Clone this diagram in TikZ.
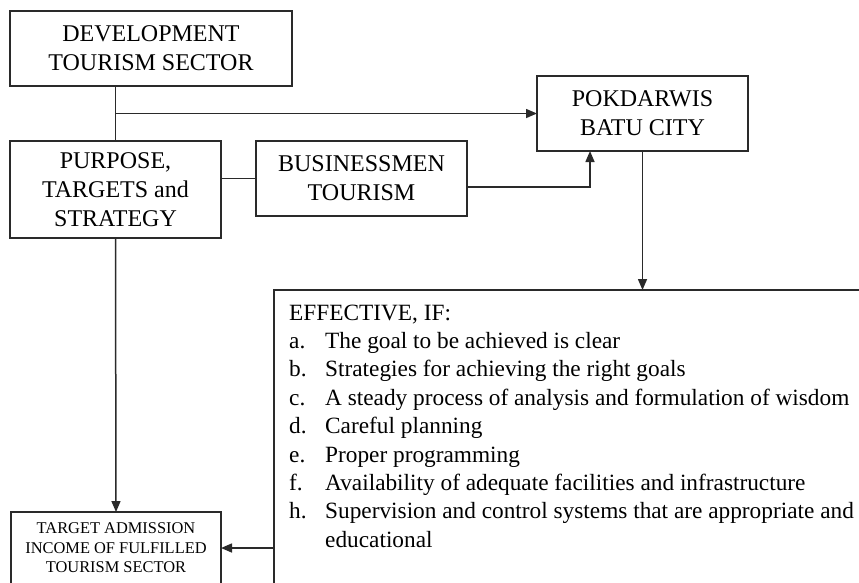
\documentclass[tikz,border=0pt]{standalone}
\usepackage{fontspec}
\setmainfont{Liberation Serif}
\usetikzlibrary{arrows.meta}
\definecolor{linegray}{HTML}{2A2A2A}

\begin{document}
\begin{tikzpicture}[
		x=1pt, y=-1pt,
		box/.style = {
			draw=linegray, line width=1.5pt, rectangle, align=center,
			font=\fontsize{24}{29}\selectfont,
			outer sep=0pt, inner sep=0pt
		},
		smallbox/.style = {
			box, font=\fontsize{16.4}{19.5}\selectfont
		},
		conn/.style = {draw=linegray, line width=1.5pt},
		tip/.style = {conn, -{Triangle[length=11pt,width=9pt]}}
		]
		\useasboundingbox (0,0) rectangle (859,582);
		%\draw[help lines] (0,0) grid[step=50] (859,582);
		\node[box, minimum width=282pt, minimum height=75pt] (dev) at (151,48.5) {DEVELOPMENT\\TOURISM SECTOR};
		\node[box, minimum width=211pt, minimum height=97pt] (purpose) at (115.5,189.5) {PURPOSE,\\TARGETS and\\STRATEGY};
		\node[box, minimum width=211pt, minimum height=75pt] (business) at (361.5,178.5) {BUSINESSMEN\\TOURISM};
		\node[box, minimum width=211pt, minimum height=75pt] (pokdarwis) at (642.5,113.5) {POKDARWIS\\BATU CITY};
		\node[smallbox, minimum width=210pt, minimum height=72pt] (target) at (116,548) {TARGET ADMISSION\\INCOME OF FULFILLED\\TOURISM SECTOR};
		\node[box, anchor=north west, minimum width=620pt, minimum height=330pt] (effective) at (274,290) {};
		\node[anchor=north west, inner sep=0pt, font=\fontsize{23.3}{28.4}\selectfont] (conditions) at (289,300) {%
			\begin{tabular}{@{}p{36pt}@{}l@{}}
				\multicolumn{2}{@{}l@{}}{EFFECTIVE, IF:}\\
				a. & The goal to be achieved is clear\\
				b. & Strategies for achieving the right goals\\
				c. & A steady process of analysis and formulation of wisdom\\
				d. & Careful planning\\
				e. & Proper programming\\
				f. & Availability of adequate facilities and infrastructure\\
				h. & Supervision and control systems that are appropriate and\\
				   & educational
			\end{tabular}};
		
		\draw[conn] (purpose.north) -- (purpose.north |- dev.south);
		\draw[tip] (purpose.north |- pokdarwis.west) -- (pokdarwis.west);
		\draw[conn] (business.west) -- (business.west -| purpose.east);
		\draw[tip] ([yshift=-8.5pt]business.east) -| ([xshift=-52.5pt]pokdarwis.south);
		\draw[tip] (pokdarwis.south) -- (pokdarwis.south |- effective.north);
		\draw[tip] (purpose.south) -- (target.north);
		\draw[tip] (effective.west |- target.east) -- (target.east);
	\end{tikzpicture}
\end{document}
